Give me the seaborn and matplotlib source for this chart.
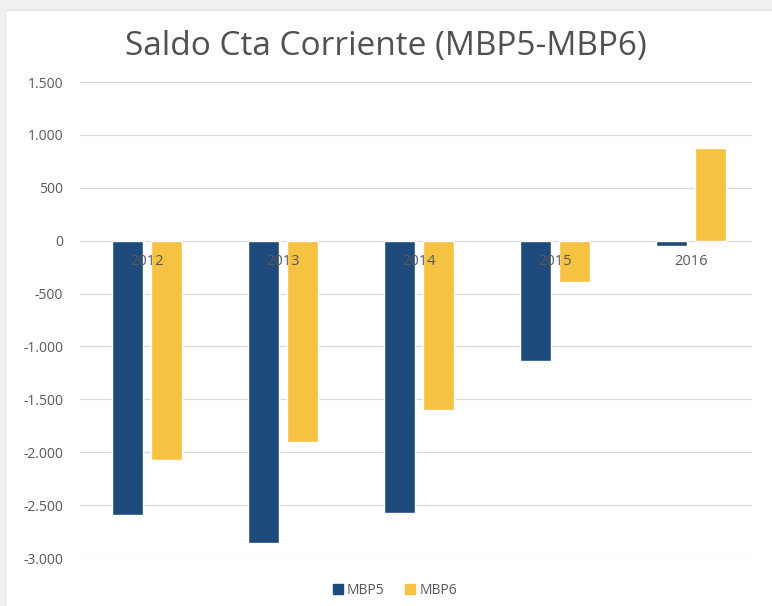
import numpy as np
import pandas as pd
import matplotlib
matplotlib.use("Agg")
import matplotlib.pyplot as plt
import matplotlib.ticker as mticker
from matplotlib.patches import Rectangle
import seaborn as sns

# values
years = ["2012", "2013", "2014", "2015", "2016"]
mbp5 = [-2590, -2855, -2570, -1135, -55]
mbp6 = [-2070, -1900, -1600, -395, 880]
series_names = ["MBP5", "MBP6"]
colors = ["#1f4a7c", "#f6c244"]

df = pd.DataFrame({
    "year": years * 2,
    "value": mbp5 + mbp6,
    "serie": [series_names[0]] * len(years) + [series_names[1]] * len(years),
})

sns.set_style("white")
plt.rcParams["font.family"] = ["Open Sans", "DejaVu Sans"]

fig = plt.figure(figsize=(7.72, 6.06), dpi=100)
fig.patch.set_facecolor("#f0f0f0")
# white chart area inside a thin gray frame
fig.patches.append(Rectangle((5 / 772, 0), 1, 1 - 10 / 606, transform=fig.transFigure,
                             facecolor="white", edgecolor="#e4e4e4", lw=0.8, zorder=-10))

ax = fig.add_axes([80 / 772, 1 - 558 / 606, 672 / 772, 476 / 606])
ax.set_facecolor("none")

sns.barplot(data=df, x="year", y="value", hue="serie", hue_order=series_names,
            palette=colors, width=0.57, gap=0.2, saturation=1, ax=ax, legend=False)

ax.set_ylim(-3000, 1500)
ax.set_xlim(-0.49, 4.45)
ax.yaxis.set_major_locator(mticker.MultipleLocator(500))
ax.yaxis.set_major_formatter(mticker.FuncFormatter(lambda v, p: f"{int(v):,}".replace(",", ".")))
ax.grid(axis="y", color="#d9d9d9", lw=0.9)
ax.set_axisbelow(True)

for s in ["top", "right", "left", "bottom"]:
    ax.spines[s].set_visible(False)

# category labels sit just under the zero line, drawn over the bars
ax.set_xticks(range(len(years)))
ax.set_xticklabels([])
ax.tick_params(axis="x", length=0)
for i, yr in enumerate(years):
    ax.annotate(yr, xy=(i, 0), xytext=(0, -15), textcoords="offset points",
                ha="center", va="center", fontsize=10.5, color="#595959", zorder=5)

ax.tick_params(axis="y", length=0, pad=12, labelsize=10, labelcolor="#595959")
ax.set_xlabel("")
ax.set_ylabel("")

fig.text(0.5, 1 - 47 / 606, "Saldo Cta Corriente (MBP5-MBP6)", ha="center", va="center",
         fontsize=24, color="#505050")

handles = [Rectangle((0, 0), 1, 1, color=c) for c in colors]
fig.legend(handles, series_names, loc="center", bbox_to_anchor=(395 / 772, 1 - 590 / 606),
           ncol=2, frameon=False, fontsize=10, handlelength=0.7, handleheight=0.7,
           handletextpad=0.3, columnspacing=1.5, labelcolor="#595959")

fig.savefig("out.png", dpi=100, facecolor=fig.get_facecolor())
